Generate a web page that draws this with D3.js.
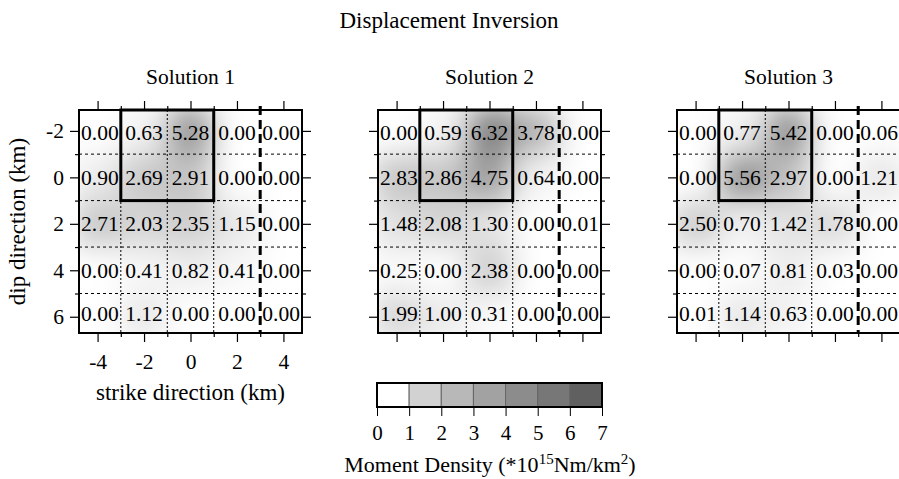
<!DOCTYPE html>
<html><head><meta charset="utf-8">
<script src="https://cdn.jsdelivr.net/npm/d3@7"></script>
<style>
body{margin:0;background:#fff}
text{font-family:"Liberation Serif","Times New Roman",serif;fill:#000}
</style>
</head><body>
<svg id="chart" width="899" height="479"></svg>
<script>
// ---------------- data ----------------
const panelTitles = ["Solution 1", "Solution 2", "Solution 3"];
const sol1 = [
  [0.00, 0.63, 5.28, 0.00, 0.00],
  [0.90, 2.69, 2.91, 0.00, 0.00],
  [2.71, 2.03, 2.35, 1.15, 0.00],
  [0.00, 0.41, 0.82, 0.41, 0.00],
  [0.00, 1.12, 0.00, 0.00, 0.00]
];
const sol2 = [
  [0.00, 0.59, 6.32, 3.78, 0.00],
  [2.83, 2.86, 4.75, 0.64, 0.00],
  [1.48, 2.08, 1.30, 0.00, 0.01],
  [0.25, 0.00, 2.38, 0.00, 0.00],
  [1.99, 1.00, 0.31, 0.00, 0.00]
];
const sol3 = [
  [0.00, 0.77, 5.42, 0.00, 0.06],
  [0.00, 5.56, 2.97, 0.00, 1.21],
  [2.50, 0.70, 1.42, 1.78, 0.00],
  [0.00, 0.07, 0.81, 0.03, 0.00],
  [0.01, 1.14, 0.63, 0.00, 0.00]
];
const solutions = [sol1, sol2, sol3];
const strikeEdges = [-5, -3, -1, 1, 3, 5];   // km, subfault column edges
const dipEdges = [-3, -1, 1, 3, 5, 7];       // km, subfault row edges
const strikeDomain = [-4.8, 4.8];
const dipDomain = [-2.9, 6.7];
const xMajor = [-4, -2, 0, 2, 4];
const xMinor = [-3, -1, 1, 3];
const yMajor = [-2, 0, 2, 4, 6];
const yMinor = [-1, 1, 3, 5];
const boxStrike = [-3, 1];
const boxDip = [-3, 1];
const faultEdgeStrike = 3;
const legendBreaks = [0, 1, 2, 3, 4, 5, 6, 7];
const legendColors = ["#ffffff", "#d2d2d2", "#b8b8b8", "#a2a2a2", "#8c8c8c", "#777777", "#606060"];

// ---------------- layout ----------------
const svg = d3.select("#chart");
const P = 223, top0 = 110, left0 = 79, step = 299;
const serif = '"Liberation Serif","Times New Roman",serif';

svg.append("text").attr("x", 449).attr("y", 28).attr("text-anchor", "middle")
  .attr("font-size", 23).text("Displacement Inversion");

const x = d3.scaleLinear().domain(strikeDomain).range([0, P]);
const y = d3.scaleLinear().domain(dipDomain).range([0, P]);
const shade = d3.scaleLinear().domain([0, 7]).range(["#ffffff", "#6e6e6e"]);

const defs = svg.append("defs");
const filt = defs.append("filter").attr("id", "blur")
  .attr("x", "-30%").attr("y", "-30%").attr("width", "160%").attr("height", "160%");
filt.append("feGaussianBlur").attr("stdDeviation", 15);

const cells = [];
for (let r = 0; r < 5; r++) for (let c = 0; c < 5; c++) cells.push({r, c});
const clamp = (v, d) => Math.max(d[0], Math.min(d[1], v));

solutions.forEach((sol, i) => {
  const g = svg.append("g").attr("transform", `translate(${left0 + i * step},${top0})`);
  defs.append("clipPath").attr("id", "clip" + i).append("rect")
    .attr("x", 0).attr("y", 0).attr("width", P).attr("height", P);

  svg.append("text").attr("x", left0 + i * step + P / 2).attr("y", 84)
    .attr("text-anchor", "middle").attr("font-size", 21.5).text(panelTitles[i]);

  // smoothed shading
  g.append("g").attr("clip-path", `url(#clip${i})`)
    .append("g").attr("filter", "url(#blur)")
    .selectAll("rect").data(cells).join("rect")
    .attr("x", d => x(strikeEdges[d.c])).attr("y", d => y(dipEdges[d.r]))
    .attr("width", d => x(strikeEdges[d.c + 1]) - x(strikeEdges[d.c]))
    .attr("height", d => y(dipEdges[d.r + 1]) - y(dipEdges[d.r]))
    .attr("fill", d => shade(sol[d.r][d.c]));

  // grid lines
  g.selectAll(".vl").data(strikeEdges.filter(v => v > strikeDomain[0] && v < strikeDomain[1] && v !== faultEdgeStrike))
    .join("line").attr("x1", d => x(d)).attr("x2", d => x(d)).attr("y1", 0).attr("y2", P)
    .attr("stroke", "#000").attr("stroke-width", 1).attr("stroke-dasharray", "2,2");
  g.selectAll(".hl").data(dipEdges.filter(v => v > dipDomain[0] && v < dipDomain[1]))
    .join("line").attr("y1", d => y(d)).attr("y2", d => y(d)).attr("x1", 0).attr("x2", P)
    .attr("stroke", "#000").attr("stroke-width", 1).attr("stroke-dasharray", "3,3");

  // values
  g.selectAll(".val").data(cells).join("text")
    .attr("x", d => x((clamp(strikeEdges[d.c], strikeDomain) + clamp(strikeEdges[d.c + 1], strikeDomain)) / 2))
    .attr("y", d => y((clamp(dipEdges[d.r], dipDomain) + clamp(dipEdges[d.r + 1], dipDomain)) / 2) + 7.5)
    .attr("text-anchor", "middle").attr("font-size", 21.5)
    .text(d => sol[d.r][d.c].toFixed(2));

  // highlighted subfaults
  g.append("rect").attr("x", x(boxStrike[0])).attr("y", y(Math.max(boxDip[0], dipDomain[0])))
    .attr("width", x(boxStrike[1]) - x(boxStrike[0]))
    .attr("height", y(boxDip[1]) - y(Math.max(boxDip[0], dipDomain[0])))
    .attr("fill", "none").attr("stroke", "#000").attr("stroke-width", 3);

  // fault edge
  g.append("line").attr("x1", x(faultEdgeStrike)).attr("x2", x(faultEdgeStrike))
    .attr("y1", -4).attr("y2", P).attr("stroke", "#000").attr("stroke-width", 3)
    .attr("stroke-dasharray", "9,5");

  // border
  g.append("rect").attr("width", P).attr("height", P).attr("fill", "none")
    .attr("stroke", "#000").attr("stroke-width", 2);

  // axes
  const fmt = d => String(d);
  const mk = (axis, vals, size, labels, pad) => axis.tickValues(vals).tickSize(size).tickPadding(pad)
    .tickFormat(labels ? fmt : () => "");
  const addAxis = (a, tx, ty) => {
    const ag = g.append("g").attr("transform", `translate(${tx},${ty})`).call(a);
    ag.select(".domain").remove();
    ag.selectAll("line").attr("stroke", "#000").attr("stroke-width", 1.2);
    ag.selectAll("text").attr("font-size", 21.5).attr("font-family", serif).attr("fill", "#000");
    return ag;
  };
  const lab = i === 0;
  addAxis(mk(d3.axisBottom(x), xMajor, 9, lab, 12), 0, P);
  addAxis(mk(d3.axisBottom(x), xMinor, 4, false, 4), 0, P);
  addAxis(mk(d3.axisTop(x), xMajor, 9, false, 4), 0, 0);
  addAxis(mk(d3.axisTop(x), xMinor, 4, false, 4), 0, 0);
  addAxis(mk(d3.axisLeft(y), yMajor, 9, lab, 6), 0, 0);
  addAxis(mk(d3.axisLeft(y), yMinor, 4, false, 4), 0, 0);
  addAxis(mk(d3.axisRight(y), yMajor, 9, false, 4), P, 0);
  addAxis(mk(d3.axisRight(y), yMinor, 4, false, 4), P, 0);
});

// axis titles
svg.append("text").attr("x", left0 + P / 2).attr("y", 400).attr("text-anchor", "middle")
  .attr("font-size", 23).text("strike direction (km)");
svg.append("text").attr("transform", `translate(25,${top0 + P / 2}) rotate(-90)`)
  .attr("text-anchor", "middle").attr("font-size", 23).text("dip direction (km)");

// legend
const lx = d3.scaleLinear().domain([0, 7]).range([377, 602]);
const lg = svg.append("g");
lg.selectAll("rect.c").data(legendColors).join("rect")
  .attr("x", (d, k) => lx(legendBreaks[k])).attr("y", 383)
  .attr("width", (d, k) => lx(legendBreaks[k + 1]) - lx(legendBreaks[k])).attr("height", 24)
  .attr("fill", d => d).attr("stroke", "#666").attr("stroke-width", 1);
lg.append("rect").attr("x", lx(0)).attr("y", 383).attr("width", lx(7) - lx(0)).attr("height", 24)
  .attr("fill", "none").attr("stroke", "#000").attr("stroke-width", 2);
const la = lg.append("g").attr("transform", "translate(0,407)")
  .call(d3.axisBottom(lx).tickValues(legendBreaks).tickSize(9).tickPadding(9).tickFormat(d => String(d)));
la.select(".domain").remove();
la.selectAll("line").attr("stroke", "#000");
la.selectAll("text").attr("font-size", 21).attr("font-family", serif).attr("fill", "#000");
const lt = svg.append("text").attr("x", 490).attr("y", 472).attr("text-anchor", "middle").attr("font-size", 22);
lt.append("tspan").text("Moment Density (*10");
lt.append("tspan").attr("dy", -8).attr("font-size", 15).text("15");
lt.append("tspan").attr("dy", 8).text("Nm/km");
lt.append("tspan").attr("dy", -8).attr("font-size", 15).text("2");
lt.append("tspan").attr("dy", 8).text(")");
</script>
</body></html>
